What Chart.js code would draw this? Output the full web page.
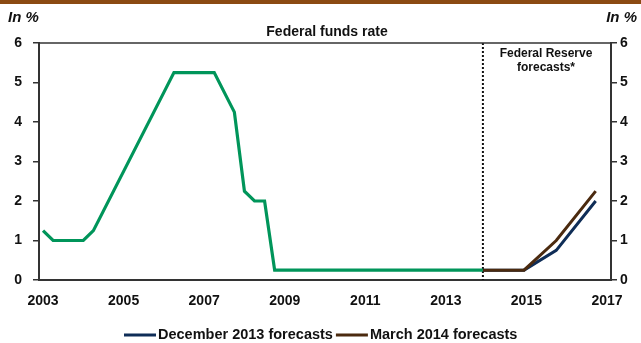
<!DOCTYPE html>
<html>
<head>
<meta charset="utf-8">
<script src="https://cdn.jsdelivr.net/npm/chart.js@4/dist/chart.umd.min.js"></script>
<style>
    html, body { margin: 0; padding: 0; background: #fff; }
    #wrap { width: 641px; height: 343px; }
</style>
</head>
<body>
<div id="wrap"><canvas id="chart" width="641" height="343"></canvas></div>
<script>
const FONT = '"Liberation Sans", Arial, sans-serif';

// quarterly effective fed funds target, 2003Q1 .. 2013Q4
const fundsStart = 2003;
const fundsRate = [
    1.25, 1.0, 1.0, 1.0,
    1.0, 1.25, 1.75, 2.25,
    2.75, 3.25, 3.75, 4.25,
    4.75, 5.25, 5.25, 5.25,
    5.25, 5.25, 4.75, 4.25,
    2.25, 2.0, 2.0, 0.25,
    0.25, 0.25, 0.25, 0.25,
    0.25, 0.25, 0.25, 0.25,
    0.25, 0.25, 0.25, 0.25,
    0.25, 0.25, 0.25, 0.25,
    0.25, 0.25, 0.25, 0.25
];

// forecast dates (first one = last observed, Dec 2013)
const forecastDates = [2013.92, 2014.94, 2015.74, 2016.72];
const dec2013 = [0.25, 0.25, 0.75, 2.0];
const mar2014 = [0.25, 0.25, 1.0, 2.25];

const yearTicks = [2003, 2005, 2007, 2009, 2011, 2013, 2015, 2017];
const rateTicks = [0, 1, 2, 3, 4, 5, 6];

const seriesNames = ['December 2013 forecasts', 'March 2014 forecasts'];
const GREEN = '#00955a';
const NAVY = '#0f2d57';
const BROWN = '#4b2a0f';

let fundsPoints = fundsRate.map((v, i) => ({x: fundsStart + i / 4, y: v}));
fundsPoints.push({x: forecastDates[0], y: fundsRate[fundsRate.length - 1]});

const toPoints = (vals) => vals.map((v, i) => ({x: forecastDates[i], y: v}));

const axisGrid = {
    drawOnChartArea: false,
    drawTicks: true,
    tickLength: 6,
    color: '#333',
    lineWidth: 1.5
};

const tickFont = {family: FONT, size: 14, weight: 'bold'};

const decorations = {
    id: 'decorations',
    beforeDatasetsDraw(chart) {
        const {ctx, chartArea} = chart;
        const x = chart.scales.x.getPixelForValue(forecastDates[0]);
        ctx.save();
        ctx.strokeStyle = '#111';
        ctx.lineWidth = 2;
        ctx.setLineDash([2, 2]);
        ctx.beginPath();
        ctx.moveTo(x, chartArea.top);
        ctx.lineTo(x, chartArea.bottom);
        ctx.stroke();
        ctx.restore();
    },
    afterDraw(chart) {
        const {ctx, chartArea} = chart;
        ctx.save();
        // brown rule across the top
        ctx.fillStyle = '#8b4a12';
        ctx.fillRect(0, 0, 641, 4);

        // top edge of plot frame
        ctx.strokeStyle = '#333';
        ctx.lineWidth = 1.5;
        ctx.beginPath();
        ctx.moveTo(chartArea.left, chartArea.top);
        ctx.lineTo(chartArea.right, chartArea.top);
        ctx.stroke();

        ctx.fillStyle = '#111';
        ctx.textBaseline = 'middle';
        ctx.font = 'italic bold 15px ' + FONT;
        ctx.textAlign = 'left';
        ctx.fillText('In %', 8, 18);
        ctx.textAlign = 'right';
        ctx.fillText('In %', 637, 18);

        ctx.font = 'bold 14px ' + FONT;
        ctx.textAlign = 'center';
        ctx.fillText('Federal funds rate', 327, 32);

        ctx.font = 'bold 12px ' + FONT;
        ctx.fillText('Federal Reserve', 546, 54);
        ctx.fillText('forecasts*', 546, 68);

        // legend
        const colors = [NAVY, BROWN];
        ctx.font = 'bold 14.5px ' + FONT;
        ctx.textAlign = 'left';
        let lx = 124;
        const ly = 335;
        seriesNames.forEach((name, i) => {
            ctx.strokeStyle = colors[i];
            ctx.lineWidth = 3;
            ctx.beginPath();
            ctx.moveTo(lx, ly);
            ctx.lineTo(lx + 32, ly);
            ctx.stroke();
            ctx.fillStyle = '#111';
            ctx.fillText(name, lx + 34, ly);
            lx += 34 + ctx.measureText(name).width + 3;
        });
        ctx.restore();
    }
};

const config = {
    type: 'line',
    data: {
        datasets: [
            {
                label: seriesNames[1],
                data: toPoints(mar2014),
                borderColor: BROWN,
                borderWidth: 3,
                pointRadius: 0,
                order: 0
            },
            {
                label: seriesNames[0],
                data: toPoints(dec2013),
                borderColor: NAVY,
                borderWidth: 3,
                pointRadius: 0,
                order: 1
            },
            {
                label: 'Federal funds rate',
                data: fundsPoints,
                borderColor: GREEN,
                borderWidth: 3.2,
                pointRadius: 0,
                order: 2
            }
        ]
    },
    options: {
        responsive: false,
        animation: false,
        layout: {padding: {top: 43, left: 0, right: 0, bottom: 0}},
        plugins: {
            legend: {display: false},
            title: {display: false},
            tooltip: {enabled: false}
        },
        scales: {
            x: {
                type: 'linear',
                min: 2002.9,
                max: 2017.1,
                afterBuildTicks: (scale) => {
                    scale.ticks = yearTicks.map(v => ({value: v}));
                },
                afterFit: (scale) => { scale.height = 63; },
                grid: {display: false, drawTicks: false},
                border: {color: '#333', width: 2},
                ticks: {
                    padding: 13,
                    maxRotation: 0,
                    autoSkip: false,
                    color: '#111',
                    font: tickFont,
                    callback: (v) => String(v)
                }
            },
            y: {
                position: 'left',
                min: 0,
                max: 6,
                afterBuildTicks: (scale) => {
                    scale.ticks = rateTicks.map(v => ({value: v}));
                },
                afterFit: (scale) => { scale.width = 39; },
                grid: axisGrid,
                border: {color: '#333', width: 2},
                ticks: {padding: 11, color: '#111', font: tickFont}
            },
            y2: {
                position: 'right',
                min: 0,
                max: 6,
                afterBuildTicks: (scale) => {
                    scale.ticks = rateTicks.map(v => ({value: v}));
                },
                afterFit: (scale) => { scale.width = 30; },
                grid: axisGrid,
                border: {color: '#333', width: 2},
                ticks: {padding: 3, color: '#111', font: tickFont}
            }
        }
    },
    plugins: [decorations]
};

window.onload = () => {
    let ctx = document.getElementById('chart').getContext('2d');
    window.myChart = new Chart(ctx, config);
};
</script>
</body>
</html>
